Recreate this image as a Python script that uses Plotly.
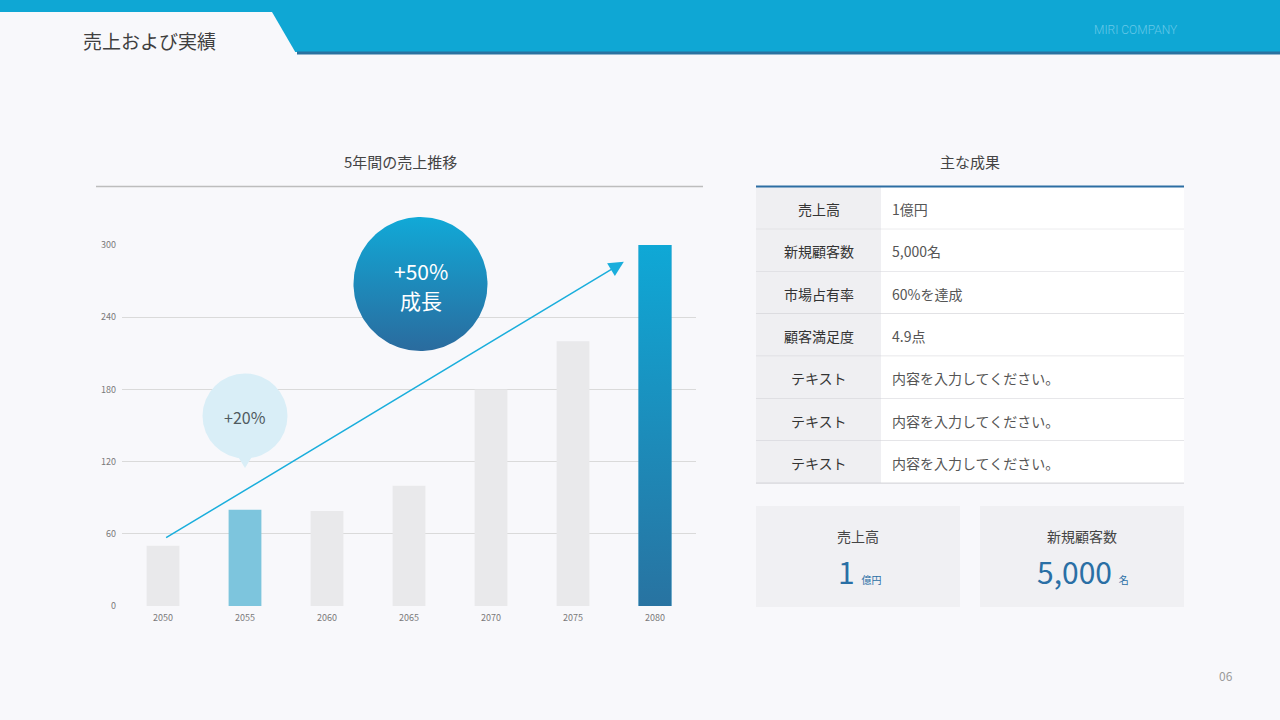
import numpy as np
import plotly.graph_objects as go

# ---------------- data ----------------
years = ["2050", "2055", "2060", "2065", "2070", "2075", "2080"]
sales = [50, 80, 79, 100, 180, 220, 300]
y_ticks = [0, 60, 120, 180, 240, 300]
bar_colors = ["#e9e9eb", "#7dc5dd", "#e9e9eb", "#e9e9eb", "#e9e9eb", "#e9e9eb", "#1b8fc0"]
highlight_index = 6

table_labels = ["売上高", "新規顧客数", "市場占有率", "顧客満足度", "テキスト", "テキスト", "テキスト"]
table_values = ["1億円", "5,000名", "60%を達成", "4.9点",
                "内容を入力してください。", "内容を入力してください。", "内容を入力してください。"]
card_labels = ["売上高", "新規顧客数"]
card_numbers = ["1", "5,000"]
card_units = ["億円", "名"]

FONT = "Noto Sans CJK JP"
BG = "#f8f8fb"
BAR_W = 0.4

fig = go.Figure()

# bars
fig.add_trace(go.Bar(
    x=list(range(len(years))), y=sales, width=BAR_W,
    marker=dict(color=bar_colors, line=dict(width=0)),
    hoverinfo="skip", showlegend=False, xaxis="x", yaxis="y",
))

# gradient overlay for the highlighted bar (built from its data value)
hi = highlight_index
fig.add_trace(go.Scatter(
    x=[hi - BAR_W / 2, hi + BAR_W / 2, hi + BAR_W / 2, hi - BAR_W / 2, hi - BAR_W / 2],
    y=[0, 0, sales[hi], sales[hi], 0],
    mode="lines", line=dict(width=0), fill="toself",
    fillgradient=dict(type="vertical", colorscale=[[0, "#2873a1"], [1, "#0fa8d6"]]),
    hoverinfo="skip", showlegend=False, xaxis="x", yaxis="y",
))

# big gradient bubble in page pixel coordinates
th = np.linspace(0, 2 * np.pi, 181)
cx, cy, r = 420.5, 284, 67
fig.add_trace(go.Scatter(
    x=cx + r * np.cos(th), y=cy + r * np.sin(th),
    mode="lines", line=dict(width=0), fill="toself",
    fillgradient=dict(type="vertical", colorscale=[[0, "#2a6b9e"], [1, "#11a9d7"]]),
    hoverinfo="skip", showlegend=False, xaxis="x2", yaxis="y2",
))

shapes = []
ann = []

def rect(x0, y0, x1, y1, color, layer="above"):
    shapes.append(dict(type="rect", xref="x2", yref="y2", x0=x0, y0=y0, x1=x1, y1=y1,
                       fillcolor=color, line=dict(width=0), layer=layer))

def hline(x0, x1, y, color, w):
    shapes.append(dict(type="line", xref="x2", yref="y2", x0=x0, x1=x1, y0=y, y1=y,
                       line=dict(color=color, width=w), layer="above"))

def text(x, y, s, size, color, xanchor="center", family=FONT, yanchor="middle", weight=400):
    ann.append(dict(xref="x2", yref="y2", x=x, y=y, text=s, showarrow=False,
                    xanchor=xanchor, yanchor=yanchor,
                    font=dict(family=family, size=size, color=color, weight=weight)))

# header
rect(0, 0, 1280, 52, "#0fa7d4")
rect(297, 51.5, 1280, 54.5, "#2a72a0")
shapes.append(dict(type="path", xref="x2", yref="y2", path="M0,12 L272,12 L297,55 L0,55 Z",
                   fillcolor=BG, line=dict(width=0), layer="above"))
text(81, 40, "売上および実績", 19, "#3f3f3f", xanchor="left")
text(1092, 30, "MIRI COMPANY", 12, "#66c8e8", xanchor="left", family="Roboto", weight=300)

# chart title
text(400, 161, "5年間の売上推移", 15, "#444444")
hline(96, 703, 186.5, "#bdbdbd", 1.5)

# +20% bubble
shapes.append(dict(type="circle", xref="x2", yref="y2", x0=245 - 42.5, x1=245 + 42.5,
                   y0=416 - 42.5, y1=416 + 42.5, fillcolor="#d9eef7", line=dict(width=0), layer="above"))
shapes.append(dict(type="path", xref="x2", yref="y2", path="M237,455 L253,455 L245,468 Z",
                   fillcolor="#d9eef7", line=dict(width=0), layer="above"))
text(245, 417, "+20%", 16, "#505a60")
text(420.5, 271, "+50%", 21, "#ffffff")
text(420.5, 300, "成長", 21, "#ffffff")

# table
text(970, 161, "主な成果", 15, "#444444")
row_top = 187
row_h = 42.3
for i, (lab, val) in enumerate(zip(table_labels, table_values)):
    y0 = row_top + i * row_h
    y1 = y0 + row_h
    rect(756, y0, 881, y1, "#efeff2")
    rect(881, y0, 1184, y1, "#ffffff")
    hline(756, 1184, y1, "#cfcfd4", 1)
    text(819, (y0 + y1) / 2 + 1, lab, 14, "#333333")
    text(890, (y0 + y1) / 2 + 1, val, 14, "#555555", xanchor="left")
hline(756, 1184, 186.5, "#2d6ea3", 2)

# cards
card_x = [(756, 960), (980, 1184)]
for (x0, x1), lab, num, unit in zip(card_x, card_labels, card_numbers, card_units):
    rect(x0, 506, x1, 607, "#f0f0f3")
    c = (x0 + x1) / 2
    text(c, 536, lab, 14, "#444444")
    text(c + 1, 571,
         f"<span style='font-size:30px'>{num}</span> <span style='font-size:10px'>{unit}</span>",
         30, "#2a6fa5")

# page number
text(1226, 675, "06", 12, "#9a9a9a")

# growth arrow (decorative annotation)
ann.append(dict(xref="x", yref="y", axref="x", ayref="y",
                x=5.62, y=286, ax=0.02, ay=56, text="", showarrow=True,
                arrowhead=2, arrowsize=2, arrowwidth=1.5, arrowcolor="#1aaedc", standoff=0))

fig.update_layout(
    width=1280, height=720, autosize=False,
    margin=dict(l=0, r=0, t=0, b=0, pad=0, autoexpand=False),
    paper_bgcolor=BG, plot_bgcolor="rgba(0,0,0,0)",
    font=dict(family=FONT),
    showlegend=False,
    xaxis=dict(domain=[122 / 1280, 696 / 1280], range=[-0.5, 6.5],
               tickvals=list(range(len(years))), ticktext=years,
               showgrid=False, zeroline=False, showline=False, ticks="", automargin=False,
               ticklabelstandoff=5,
               tickfont=dict(size=9, color="#7a7a7a"), fixedrange=True, anchor="y"),
    yaxis=dict(domain=[1 - 606 / 720, 1 - 245 / 720], range=[0, 300],
               tickvals=y_ticks, showgrid=True, gridcolor="#dadada", gridwidth=1,
               zeroline=False, showline=False, ticks="", automargin=False,
               ticklabelstandoff=5,
               tickfont=dict(size=9, color="#7a7a7a"), fixedrange=True, anchor="x"),
    xaxis2=dict(domain=[0, 1], range=[0, 1280], visible=False, fixedrange=True,
                anchor="y2", automargin=False),
    yaxis2=dict(domain=[0, 1], range=[720, 0], visible=False, fixedrange=True,
                anchor="x2", automargin=False),
    shapes=shapes, annotations=ann,
)

post = ("document.body.style.margin='0';document.body.style.padding='0';"
        "document.body.style.background='" + BG + "';"
        "var d=document.getElementById('{plot_id}');"
        "d.style.position='fixed';d.style.top='0';d.style.left='0';")
fig.write_html("out.html", post_script=post, config={"displayModeBar": False})
